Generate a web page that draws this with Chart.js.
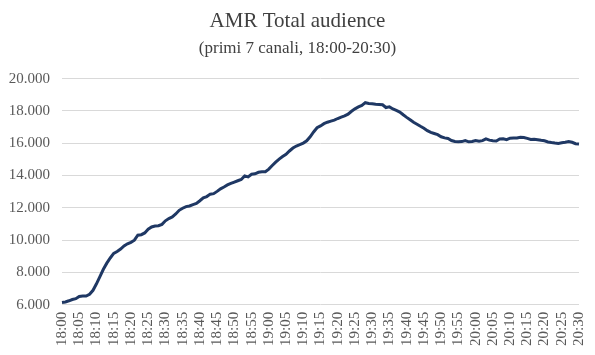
<!DOCTYPE html>
<html>
<head>
<meta charset="utf-8">
<script src="https://cdn.jsdelivr.net/npm/chart.js@4/dist/chart.umd.min.js"></script>
<style>
html,body{margin:0;padding:0;background:#fff;}
#wrap{width:595px;height:355px;position:relative;}
</style>
</head>
<body>
<div id="wrap"><canvas id="c" width="595" height="355"></canvas></div>
<script>
const titleText = "AMR Total audience";
const subtitleText = "(primi 7 canali, 18:00-20:30)";
const startHour = 18, startMinute = 0, minutesCount = 151;
const labelEvery = 5;
const yMin = 6000, yMax = 20000, yStep = 2000;

const audience = [
  6150, 6180, 6250, 6330, 6380, 6520, 6550, 6540, 6650, 6900,
  7300, 7750, 8200, 8580, 8900, 9180, 9300, 9450, 9650, 9780,
  9870, 10000, 10310, 10340, 10450, 10680, 10820, 10880, 10900, 10980,
  11200, 11340, 11440, 11620, 11850, 11980, 12080, 12120, 12200, 12270,
  12440, 12620, 12700, 12850, 12880, 13020, 13180, 13290, 13420, 13510,
  13600, 13680, 13760, 13980, 13920, 14080, 14110, 14200, 14230, 14240,
  14400, 14620, 14830, 15020, 15180, 15320, 15520, 15700, 15830, 15910,
  16010, 16150, 16400, 16700, 16960, 17070, 17210, 17300, 17370, 17430,
  17530, 17620, 17690, 17800, 17980, 18130, 18250, 18340, 18510, 18460,
  18440, 18410, 18400, 18380, 18210, 18250, 18120, 18030, 17930, 17760,
  17600, 17450, 17300, 17180, 17050, 16930, 16780, 16670, 16600, 16530,
  16400, 16330, 16290, 16170, 16110, 16090, 16100, 16170, 16090, 16110,
  16170, 16130, 16160, 16270, 16190, 16150, 16140, 16260, 16270, 16220,
  16310, 16330, 16320, 16370, 16350, 16300, 16230, 16250, 16220, 16180,
  16150, 16080, 16040, 16010, 15990, 16030, 16060, 16100, 16060, 15970,
  15950
];

const timeLabels = [];
for (let i = 0; i < minutesCount; i++) {
  const t = startHour * 60 + startMinute + i;
  const h = Math.floor(t / 60), m = t % 60;
  timeLabels.push(h + ":" + String(m).padStart(2, "0"));
}

const serif = "'Liberation Serif', 'Times New Roman', serif";

new Chart(document.getElementById("c"), {
  type: "line",
  data: {
    labels: timeLabels,
    datasets: [{
      data: audience,
      borderColor: "#1f3864",
      borderWidth: 3,
      pointRadius: 0,
      tension: 0,
      fill: false
    }]
  },
  options: {
    responsive: false,
    animation: false,
    devicePixelRatio: 1,
    layout: { padding: { left: 1, right: 1, top: 0, bottom: 2 } },
    plugins: {
      legend: { display: false },
      tooltip: { enabled: false },
      title: {
        display: true,
        text: titleText,
        color: "#404040",
        font: { family: serif, size: 21, weight: "normal" },
        padding: { top: 9, bottom: 4 }
      },
      subtitle: {
        display: true,
        text: subtitleText,
        color: "#404040",
        font: { family: serif, size: 17, weight: "normal" },
        padding: { top: 0, bottom: 20 }
      }
    },
    scales: {
      x: {
        type: "category",
        offset: false,
        grid: { display: false, drawTicks: false },
        border: { display: false },
        afterFit: function(scale) {
          scale.paddingRight = 16;
          scale.paddingLeft = 0;
        },
        ticks: {
          autoSkip: false,
          minRotation: 90,
          maxRotation: 90,
          padding: 7,
          color: "#595959",
          font: { family: serif, size: 15 },
          callback: function(value, index) {
            return index % labelEvery === 0 ? this.getLabelForValue(value) : null;
          }
        }
      },
      y: {
        min: yMin,
        max: yMax,
        grid: { color: "#d9d9d9", lineWidth: 1, drawTicks: false },
        border: { display: false },
        afterFit: function(scale) {
          scale.width = 61;
        },
        ticks: {
          stepSize: yStep,
          padding: 12,
          color: "#595959",
          font: { family: serif, size: 15 },
          callback: function(v) {
            return v.toString().replace(/\B(?=(\d{3})+(?!\d))/g, ".");
          }
        }
      }
    }
  }
});
</script>
</body>
</html>
